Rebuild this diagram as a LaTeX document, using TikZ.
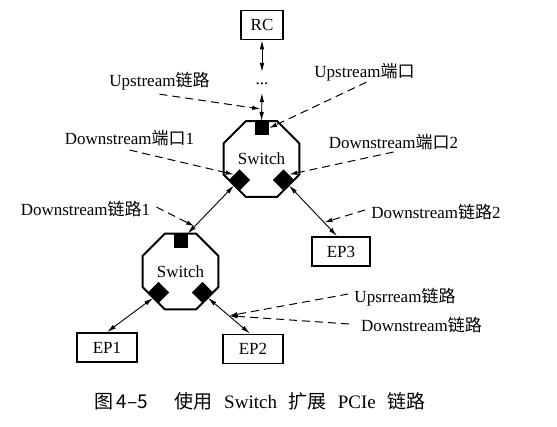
\documentclass[tikz,border=0pt]{standalone}
\usepackage{fontspec}
\setmainfont{Liberation Serif}
\newfontfamily\cjk{Noto Sans CJK SC}
\usetikzlibrary{shapes.geometric,arrows.meta}
\newcommand\zhtxt[1]{{\cjk #1}}
\begin{document}
\begin{tikzpicture}[x=1pt,y=1pt,
  lbl/.style={inner sep=0pt,font=\fontsize{17}{20}\selectfont},
  box/.style={draw,line width=1.8pt,minimum width=42pt,minimum height=29pt,inner sep=0pt,font=\fontsize{17}{20}\selectfont},
  oct/.style={draw,regular polygon,regular polygon sides=8,minimum size=82pt,inner sep=0pt,line width=2pt,font=\fontsize{17}{20}\selectfont},
  uport/.style={fill=black,minimum size=14pt,inner sep=0pt},
  dport/.style={fill=black,minimum size=15pt,inner sep=0pt,rotate=45},
  link/.style={line width=0.9pt,{Latex[length=9pt,width=4.5pt]}-{Latex[length=9pt,width=4.5pt]}},
  ptr/.style={line width=1pt,dash pattern=on 8pt off 5pt,shorten >=0.5pt,-{Latex[length=8pt,width=4.5pt]}}
]
\useasboundingbox (0,0) rectangle (557,-427);
% boxes
\node[box] (rc) at (262,-25) {RC};
\node[lbl] (dots) at (262,-84) {...};
\node[box,minimum width=58pt] (ep3) at (341,-251.5) {EP3};
\node[box,minimum width=60pt] (ep1) at (107,-347.5) {EP1};
\node[box,minimum width=60pt] (ep2) at (253,-349) {EP2};
% switches
\node[oct] (sw1) at (261.5,-159) {Switch};
\node[oct] (sw2) at (180.5,-271.5) {Switch};
\node[uport,anchor=north] (p1) at ([yshift=-1pt]sw1.north) {};
\node[uport,anchor=north] (p2) at ([yshift=-1pt]sw2.north) {};
\node[dport] (d1l) at ([shift={(-22,-21)}]sw1.center) {};
\node[dport] (d1r) at ([shift={(22,-21)}]sw1.center) {};
\node[dport] (d2l) at ([shift={(-22,-21)}]sw2.center) {};
\node[dport] (d2r) at ([shift={(22,-21)}]sw2.center) {};
% links
\draw[link] (rc.south) -- ([yshift=12pt]dots.center);
\draw[link] ([yshift=-9pt]dots.center) -- coordinate[pos=0.57] (cu) (p1.north);
\draw[link] (d1l.west) -- coordinate[pos=0.85] (c1) (p2.north east);
\draw[link] (d1r.south) -- coordinate[pos=0.73] (c2) ([xshift=-4pt]ep3.north);
\draw[link] (d2l.west) -- (ep1.north);
\draw[link] (d2r.south) -- coordinate[pos=0.5] (c4) ([xshift=-3pt]ep2.north);
% labels
\node[lbl] (lus) at (159.5,-81) {Upstream\zhtxt{链路}};
\node[lbl] (lup) at (364.5,-72) {Upstream\zhtxt{端口}};
\node[lbl] (ldp1) at (129.5,-138) {Downstream\zhtxt{端口}1};
\node[lbl] (ldp2) at (393.5,-142) {Downstream\zhtxt{端口}2};
\node[lbl] (ldl1) at (85.5,-209) {Downstream\zhtxt{链路}1};
\node[lbl] (ldl2) at (436,-212) {Downstream\zhtxt{链路}2};
\node[lbl] (lups) at (405,-297) {Upsrream\zhtxt{链路}};
\node[lbl] (ldl) at (421.5,-325) {Downstream\zhtxt{链路}};
% pointers
\draw[ptr] ([yshift=-4pt]lus.south) -- ([xshift=-1pt]cu);
\draw[ptr] ([xshift=2pt,yshift=-1pt]lup.south) -- (p1.east);
\draw[ptr] ([yshift=-4pt]ldp1.south) -- (d1l.north);
\draw[ptr] ([yshift=-2pt]ldp2.south) -- (d1r.east);
\draw[ptr] ([xshift=6pt,yshift=2pt]ldl1.east) -- (c1);
\draw[ptr] ([xshift=-6pt,yshift=2pt]ldl2.west) -- (c2);
\draw[ptr] ([xshift=-6pt,yshift=3pt]lups.west) -- (c4);
\draw[ptr] ([xshift=-12pt,yshift=1pt]ldl.west) -- (c4);
% caption
\node[lbl,font=\fontsize{19}{23}\selectfont] (cap) at (260,-401) {\zhtxt{图\,4–5}\hspace{1.4em}\zhtxt{使用}\hspace{0.6em}Switch\hspace{0.6em}\zhtxt{扩展}\hspace{0.6em}PCIe\hspace{0.6em}\zhtxt{链路}};
\end{tikzpicture}
\end{document}
